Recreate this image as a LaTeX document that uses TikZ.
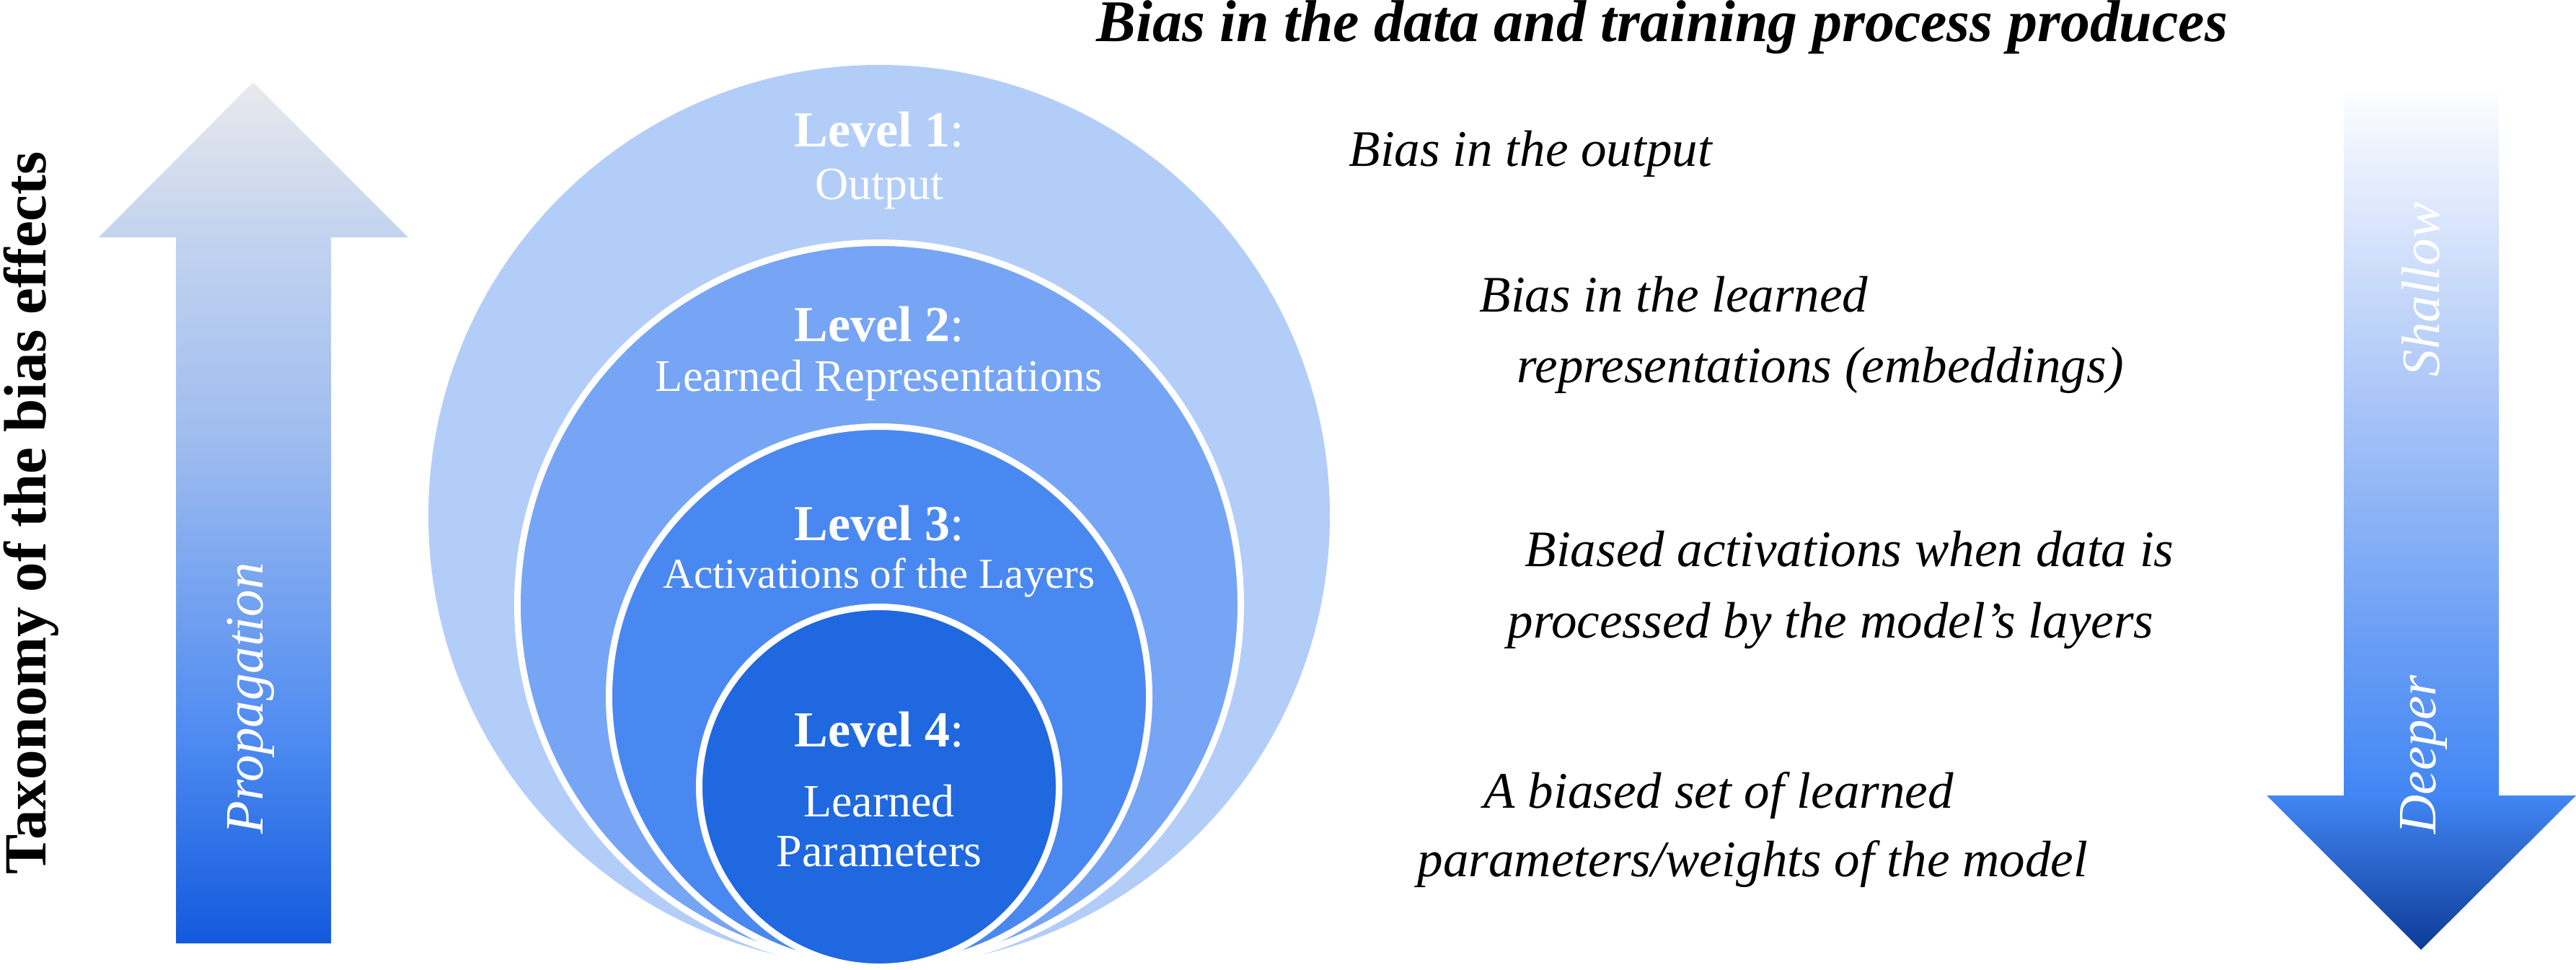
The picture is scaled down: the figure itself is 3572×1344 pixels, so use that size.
\documentclass[tikz,border=0pt]{standalone}
\usepackage{fontspec}
\setmainfont{Liberation Serif}
\usepackage{xcolor}

\definecolor{lvlone}{HTML}{B3CDF9}
\definecolor{lvltwo}{HTML}{76A5F6}
\definecolor{lvlthree}{HTML}{4A88F1}
\definecolor{lvlfour}{HTML}{1F68E0}

\definecolor{upa}{HTML}{1259DC}
\definecolor{upb}{HTML}{4D8AF1}
\definecolor{upc}{HTML}{6F9FF0}
\definecolor{upd}{HTML}{A0BDEF}
\definecolor{upe}{HTML}{C2D3EF}
\definecolor{upf}{HTML}{E8E9EC}

\definecolor{dna}{HTML}{0D3B97}
\definecolor{dnb}{HTML}{4286F4}
\definecolor{dnc}{HTML}{6A9EF5}
\definecolor{dnd}{HTML}{A8C4F7}
\definecolor{dne}{HTML}{FCFDFF}

\pgfdeclareverticalshading{upshade}{100bp}{color(0bp)=(upa); color(25bp)=(upa);
  color(36.7bp)=(upb); color(43.9bp)=(upc); color(54.6bp)=(upd);
  color(66bp)=(upe); color(75bp)=(upf); color(100bp)=(upf)}
\pgfdeclareverticalshading{downshade}{100bp}{color(0bp)=(dna); color(25bp)=(dna);
  color(34bp)=(dnb); color(43.1bp)=(dnc); color(56.7bp)=(dnd);
  color(75bp)=(dne); color(100bp)=(dne)}

\tikzset{
  lvltext/.style={text=white, font=\fontsize{19.9pt}{24pt}\selectfont\bfseries, anchor=base, inner sep=0pt},
  lvlsub/.style={text=white, font=\fontsize{18.2pt}{22pt}\selectfont, anchor=base, inner sep=0pt},
  effect/.style={font=\fontsize{20.2pt}{24pt}\selectfont\itshape, anchor=base west, inner sep=0pt},
  arrowlabel/.style={text=white, font=\fontsize{21.3pt}{25pt}\selectfont\itshape, rotate=90, anchor=base west, inner sep=0pt},
  ring/.style={draw=white, line width=2.56pt},
}

\begin{document}
\begin{tikzpicture}[x=0.01cm,y=-0.01cm]
        \useasboundingbox (0,0) rectangle (3572,1344);

        % nested levels
        \fill[lvlone] (1219,715) circle (625);
        \filldraw[ring, fill=lvltwo] (1219,838) circle (501.5);
        \filldraw[ring, fill=lvlthree] (1219,966) circle (374.5);
        \filldraw[ring, fill=lvlfour] (1219,1091) circle (249.5);

        \node[lvltext] (l1) at (1219,203) {Level 1\textmd{:}};
        \node[lvlsub] (l1s) at (1219,276) {Output};
        \node[lvltext] (l2) at (1219,473) {Level 2\textmd{:}};
        \node[lvlsub, font=\fontsize{17.8pt}{22pt}\selectfont] (l2s) at (1219,542) {Learned Representations};
        \node[lvltext] (l3) at (1219,749) {Level 3\textmd{:}};
        \node[lvlsub, font=\fontsize{16.8pt}{20pt}\selectfont] (l3s) at (1219,815) {Activations of the Layers};
        \node[lvltext] (l4) at (1219,1035) {Level 4\textmd{:}};
        \node[lvlsub] (l4s) at (1219,1132) {Learned};
        \node[lvlsub] (l4t) at (1219,1201) {Parameters};

        % left arrow
        \shade[shading=upshade] (351,114) -- (566,329) -- (459,329) -- (459,1308)
            -- (244,1308) -- (244,329) -- (137,329) -- cycle;
        \node[arrowlabel] (prop) at (364,1157) {Propagation};
        \node[rotate=90, anchor=base west, inner sep=0pt,
              font=\fontsize{23.6pt}{28pt}\selectfont\bfseries] (taxo) at (64,1213)
              {Taxonomy of the bias effects};

        % right arrow
        \shade[shading=downshade] (3250,128) -- (3465,128) -- (3465,1103) -- (3572,1103)
            -- (3357,1317) -- (3143,1103) -- (3250,1103) -- cycle;
        \node[arrowlabel] (shallow) at (3382,523) {Shallow};
        \node[arrowlabel] (deeper) at (3377,1157) {Deeper};

        % effects
        \node[anchor=base west, inner sep=0pt,
              font=\fontsize{23.3pt}{28pt}\selectfont\bfseries\itshape] (title) at (1520,57)
              {Bias in the data and training process produces};
        \node[effect] (e1) at (1870,230) {Bias in the output};
        \node[effect] (e2) at (2051,432) {Bias in the learned};
        \node[effect] (e2b) at (2103,530) {representations (embeddings)};
        \node[effect] (e3) at (2114,785) {Biased activations when data is};
        \node[effect] (e3b) at (2090,884) {processed by the model’s layers};
        \node[effect] (e4) at (2057,1120) {A biased set of learned};
        \node[effect] (e4b) at (1965,1215) {parameters/weights of the model};

    \end{tikzpicture}
\end{document}
